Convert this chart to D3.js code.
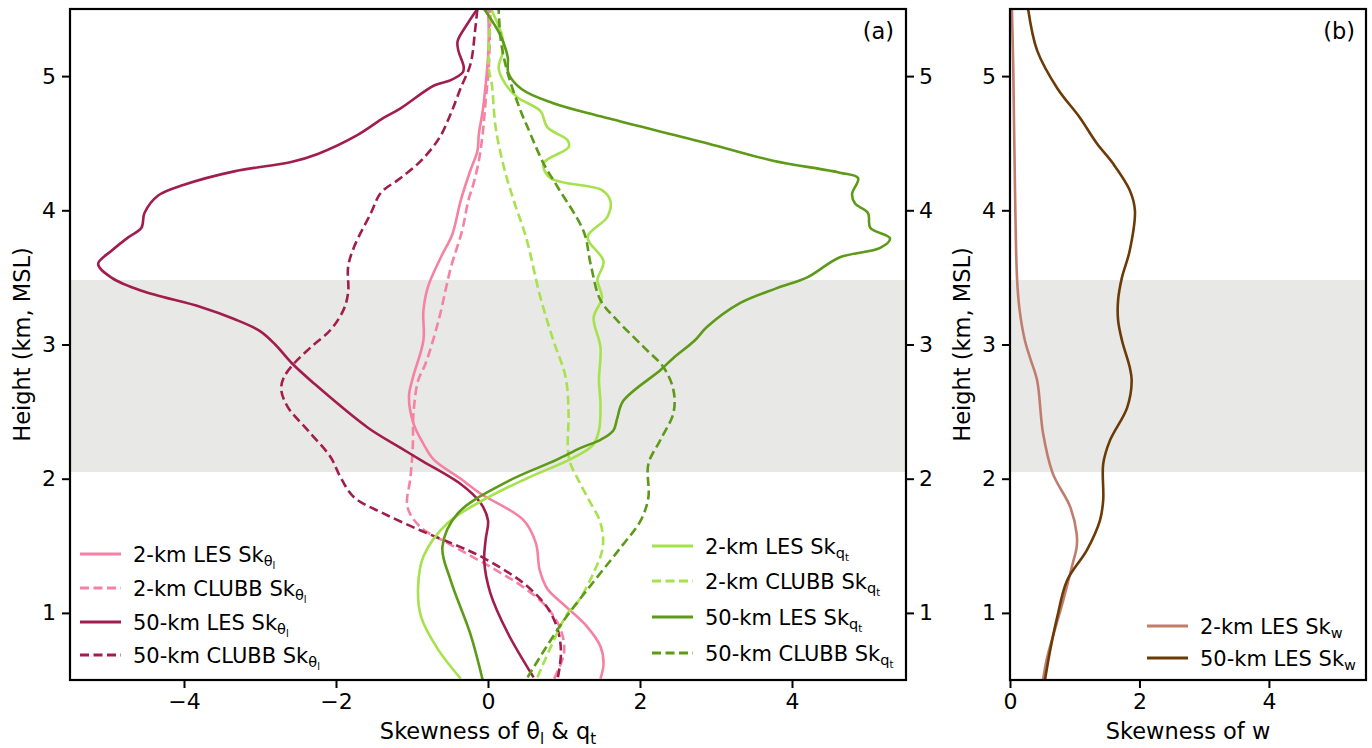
<!DOCTYPE html>
<html><head><meta charset="utf-8">
<script src="https://cdn.jsdelivr.net/npm/d3@7"></script>
<style>
body{margin:0;background:#fff;}
text{font-family:"DejaVu Sans",sans-serif;fill:#000;}
</style>
</head><body>
<svg id="c" width="1372" height="748"></svg>
<script>
// ---------- data: [height (km), skewness] ----------
const les2Th = [[0.51,1.48],[0.62,1.52],[0.75,1.48],[0.90,1.30],[1.05,1.02],[1.18,0.78],[1.32,0.68],[1.52,0.63],[1.69,0.47],[1.89,-0.10],[2.0,-0.36],[2.14,-0.71],[2.26,-0.85],[2.41,-0.98],[2.61,-1.04],[2.75,-0.99],[3.03,-0.85],[3.25,-0.85],[3.43,-0.79],[3.65,-0.62],[3.82,-0.47],[4.07,-0.36],[4.30,-0.23],[4.44,-0.14],[4.57,-0.12],[4.74,-0.07],[4.94,-0.03],[5.14,0.0],[5.32,0.01],[5.5,0.0]];
const clubb2Th = [[0.51,0.87],[0.70,1.0],[0.87,0.96],[1.04,0.78],[1.19,0.47],[1.34,0.04],[1.52,-0.53],[1.64,-0.89],[1.79,-1.06],[2.01,-1.02],[2.23,-0.99],[2.49,-0.98],[2.73,-0.92],[2.86,-0.82],[3.18,-0.65],[3.57,-0.49],[3.85,-0.34],[4.07,-0.26],[4.20,-0.19],[4.37,-0.12],[4.57,-0.07],[4.82,-0.03],[5.06,0.01],[5.5,0.03]];
const les50Th = [[0.52,0.60],[0.85,0.26],[1.15,0.03],[1.39,-0.05],[1.55,-0.03],[1.69,0.0],[1.82,-0.10],[1.96,-0.36],[2.14,-0.89],[2.23,-1.15],[2.38,-1.58],[2.71,-2.29],[2.86,-2.58],[3.0,-2.80],[3.10,-3.0],[3.19,-3.34],[3.28,-3.78],[3.40,-4.56],[3.50,-4.96],[3.60,-5.13],[3.70,-4.95],[3.80,-4.73],[3.87,-4.56],[3.98,-4.52],[4.11,-4.34],[4.19,-4.0],[4.29,-3.34],[4.36,-2.59],[4.42,-2.24],[4.56,-1.72],[4.69,-1.37],[4.76,-1.15],[4.93,-0.71],[4.97,-0.49],[5.03,-0.33],[5.07,-0.32],[5.19,-0.39],[5.26,-0.40],[5.39,-0.27],[5.5,-0.14]];
const clubb50Th = [[0.52,0.92],[0.70,0.96],[0.87,0.92],[1.04,0.78],[1.22,0.47],[1.41,-0.06],[1.49,-0.36],[1.61,-0.87],[1.74,-1.37],[1.86,-1.76],[2.01,-1.94],[2.16,-2.07],[2.36,-2.37],[2.53,-2.63],[2.66,-2.72],[2.75,-2.69],[2.86,-2.55],[2.98,-2.33],[3.11,-2.07],[3.26,-1.90],[3.39,-1.84],[3.58,-1.84],[3.73,-1.76],[3.98,-1.54],[4.13,-1.41],[4.24,-1.15],[4.37,-0.88],[4.54,-0.64],[4.72,-0.49],[4.91,-0.36],[5.09,-0.23],[5.34,-0.17],[5.5,-0.14]];
const les2Qt = [[0.51,-0.36],[0.73,-0.66],[0.97,-0.88],[1.19,-0.92],[1.42,-0.85],[1.67,-0.53],[1.86,0.0],[2.0,0.5],[2.15,1.1],[2.25,1.38],[2.36,1.46],[2.56,1.48],[2.73,1.46],[2.98,1.48],[3.20,1.39],[3.35,1.50],[3.48,1.44],[3.62,1.52],[3.80,1.31],[3.95,1.57],[4.07,1.61],[4.15,1.50],[4.24,0.82],[4.35,0.73],[4.47,1.06],[4.52,1.05],[4.62,0.78],[4.74,0.69],[4.84,0.39],[4.95,0.22],[5.06,0.14],[5.19,0.20],[5.29,0.19],[5.5,0.04]];
const clubb2Qt = [[0.52,0.65],[0.80,0.87],[1.0,1.05],[1.08,1.18],[1.30,1.39],[1.49,1.51],[1.67,1.48],[1.86,1.31],[2.0,1.18],[2.12,1.08],[2.23,1.05],[2.49,1.06],[2.76,1.02],[3.03,0.86],[3.35,0.69],[3.80,0.50],[4.07,0.34],[4.32,0.21],[4.62,0.10],[4.94,0.05],[5.06,0.01],[5.5,0.04]];
const les50Qt = [[0.5,-0.07],[0.84,-0.23],[1.24,-0.49],[1.49,-0.60],[1.74,-0.40],[1.98,0.26],[2.14,0.90],[2.23,1.22],[2.29,1.48],[2.36,1.65],[2.45,1.70],[2.58,1.78],[2.81,2.27],[2.90,2.44],[3.03,2.72],[3.13,2.88],[3.31,3.32],[3.42,3.80],[3.50,4.20],[3.65,4.63],[3.72,5.16],[3.79,5.29],[3.87,5.03],[3.98,5.0],[4.05,4.83],[4.12,4.79],[4.24,4.87],[4.28,4.63],[4.37,3.75],[4.50,2.88],[4.70,1.48],[4.80,0.85],[4.90,0.45],[5.02,0.27],[5.14,0.26],[5.24,0.21],[5.34,0.13],[5.5,-0.05]];
const clubb50Qt = [[0.52,0.52],[0.93,0.98],[1.24,1.40],[1.49,1.75],[1.69,2.01],[1.86,2.11],[2.11,2.11],[2.29,2.27],[2.49,2.44],[2.66,2.44],[2.83,2.31],[2.98,2.05],[3.18,1.70],[3.33,1.48],[3.60,1.35],[3.84,1.26],[4.17,0.92],[4.35,0.73],[4.62,0.52],[4.74,0.43],[5.02,0.26],[5.26,0.17],[5.5,0.14]];
const les2W = [[0.5,0.51],[0.66,0.57],[0.87,0.69],[1.09,0.82],[1.37,0.97],[1.49,1.03],[1.59,1.03],[1.79,0.93],[2.04,0.66],[2.34,0.51],[2.73,0.42],[2.90,0.31],[3.03,0.23],[3.25,0.15],[3.48,0.11],[4.07,0.08],[5.07,0.05],[5.5,0.03]];
const les50W = [[0.5,0.54],[0.72,0.62],[0.97,0.73],[1.24,0.88],[1.47,1.19],[1.69,1.39],[1.84,1.44],[2.11,1.44],[2.28,1.54],[2.53,1.81],[2.73,1.88],[2.83,1.85],[3.03,1.73],[3.18,1.67],[3.33,1.67],[3.50,1.73],[3.70,1.85],[4.0,1.93],[4.15,1.85],[4.35,1.59],[4.5,1.34],[4.69,1.08],[4.91,0.73],[5.19,0.42],[5.5,0.28]];

const cloudLayer = [2.05, 3.48];
const yTicks = [1,2,3,4,5];
const xTicksA = [-4,-2,0,2,4];
const xTicksB = [0,2,4];

const C = {pink:"#f682a3", crim:"#a11d4e", lime:"#a6e24c", green:"#5c9a17", tan:"#c07d6d", brown:"#6b3a06"};

// ---------- layout ----------
const svg = d3.select("#c");
const T0=9, B0=680;
const A = {l:70, r:906}, B = {l:1010, r:1366};
const y = d3.scaleLinear().domain([0.5,5.5]).range([B0,T0]);
const xa = d3.scaleLinear().domain([-5.5,5.5]).range([A.l,A.r]);
const xb = d3.scaleLinear().domain([0,5.5]).range([B.l,B.r]);
const FS = 22, LFS = 22.5;

const defs = svg.append("defs");
defs.append("clipPath").attr("id","ca").append("rect").attr("x",A.l).attr("y",T0).attr("width",A.r-A.l).attr("height",B0-T0);
defs.append("clipPath").attr("id","cb").append("rect").attr("x",B.l).attr("y",T0).attr("width",B.r-B.l).attr("height",B0-T0);

// cloud band
[A,B].forEach(P=>{
  svg.append("rect").attr("x",P.l).attr("width",P.r-P.l)
    .attr("y",y(cloudLayer[1])).attr("height",y(cloudLayer[0])-y(cloudLayer[1]))
    .attr("fill","#e8e8e6");
});

function mkLine(x){ return d3.line().x(d=>x(d[1])).y(d=>y(d[0])).curve(d3.curveCatmullRom.alpha(0.5)); }
const la=mkLine(xa), lb=mkLine(xb);
const dash="9,4.5";
const seriesA = [
  [les2Th,C.pink,null],[clubb2Th,C.pink,dash],[les50Th,C.crim,null],[clubb50Th,C.crim,dash],
  [les2Qt,C.lime,null],[clubb2Qt,C.lime,dash],[les50Qt,C.green,null],[clubb50Qt,C.green,dash]
];
const gA = svg.append("g").attr("clip-path","url(#ca)");
seriesA.forEach(([d,c,da])=>{
  gA.append("path").attr("d",la(d)).attr("fill","none").attr("stroke",c).attr("stroke-width",2.6)
    .attr("stroke-dasharray",da).attr("stroke-linejoin","round");
});
const gB = svg.append("g").attr("clip-path","url(#cb)");
[[les2W,C.tan],[les50W,C.brown]].forEach(([d,c])=>{
  gB.append("path").attr("d",lb(d)).attr("fill","none").attr("stroke",c).attr("stroke-width",2.6);
});

// axes
function styleAxis(g){
  g.select(".domain").remove();
  g.selectAll(".tick line").attr("stroke","#000").attr("stroke-width",2);
  g.selectAll(".tick text").attr("font-size",FS).attr("font-family","DejaVu Sans");
}
const fmt = d3.format("d");
svg.append("g").attr("transform",`translate(${A.l},0)`).call(d3.axisLeft(y).tickValues(yTicks).tickSize(8).tickPadding(6).tickFormat(fmt)).call(styleAxis);
svg.append("g").attr("transform",`translate(${A.r},0)`).call(d3.axisRight(y).tickValues(yTicks).tickSize(8).tickPadding(5).tickFormat(fmt)).call(styleAxis);
svg.append("g").attr("transform",`translate(0,${B0})`).call(d3.axisBottom(xa).tickValues(xTicksA).tickSize(8).tickPadding(5).tickFormat(fmt)).call(styleAxis);
svg.append("g").attr("transform",`translate(${B.l},0)`).call(d3.axisLeft(y).tickValues(yTicks).tickSize(8).tickPadding(6).tickFormat(fmt)).call(styleAxis);
svg.append("g").attr("transform",`translate(0,${B0})`).call(d3.axisBottom(xb).tickValues(xTicksB).tickSize(8).tickPadding(5).tickFormat(fmt)).call(styleAxis);

// spines
[A,B].forEach(P=>{
  svg.append("rect").attr("x",P.l).attr("y",T0).attr("width",P.r-P.l).attr("height",B0-T0)
    .attr("fill","none").attr("stroke","#000").attr("stroke-width",2.2);
});

// axis labels
function yLabel(x){
  svg.append("text").attr("transform",`translate(${x},${(T0+B0)/2}) rotate(-90)`)
    .attr("text-anchor","middle").attr("font-size",LFS).text("Height (km, MSL)");
}
yLabel(30); yLabel(970);
const xl = svg.append("text").attr("x",(A.l+A.r)/2).attr("y",739).attr("text-anchor","middle").attr("font-size",LFS);
xl.append("tspan").text("Skewness of θ");
xl.append("tspan").attr("font-size",15).attr("dy",5).text("l");
xl.append("tspan").attr("dy",-5).text(" & q");
xl.append("tspan").attr("font-size",15).attr("dy",5).text("t");
svg.append("text").attr("x",(B.l+B.r)/2).attr("y",739).attr("text-anchor","middle").attr("font-size",LFS).text("Skewness of w");

// panel labels
svg.append("text").attr("x",894).attr("y",39).attr("text-anchor","end").attr("font-size",LFS).text("(a)");
svg.append("text").attr("x",1355).attr("y",39).attr("text-anchor","end").attr("font-size",LFS).text("(b)");

// legends
function legend(x0, ys, items){
  items.forEach((it,i)=>{
    const yy = ys[i];
    svg.append("line").attr("x1",x0).attr("x2",x0+41).attr("y1",yy).attr("y2",yy)
      .attr("stroke",it.c).attr("stroke-width",3.2).attr("stroke-dasharray",it.d?"9,4.5":null);
    const t = svg.append("text").attr("x",x0+53).attr("y",yy+7.5).attr("font-size",21);
    t.append("tspan").text(it.label);
    if(it.sub==="th"){
      t.append("tspan").attr("font-size",14.5).attr("dy",4).text("θ");
      t.append("tspan").attr("font-size",10).attr("dy",3).text("l");
    } else if(it.sub==="qt"){
      t.append("tspan").attr("font-size",14.5).attr("dy",4).text("q");
      t.append("tspan").attr("font-size",10).attr("dy",3).text("t");
    } else {
      t.append("tspan").attr("font-size",14.5).attr("dy",4).text("w");
    }
  });
}
legend(80,[554,588,622,655],[
  {c:C.pink,d:false,label:"2-km LES Sk",sub:"th"},
  {c:C.pink,d:true,label:"2-km CLUBB Sk",sub:"th"},
  {c:C.crim,d:false,label:"50-km LES Sk",sub:"th"},
  {c:C.crim,d:true,label:"50-km CLUBB Sk",sub:"th"}]);
legend(652,[546,581,617,653],[
  {c:C.lime,d:false,label:"2-km LES Sk",sub:"qt"},
  {c:C.lime,d:true,label:"2-km CLUBB Sk",sub:"qt"},
  {c:C.green,d:false,label:"50-km LES Sk",sub:"qt"},
  {c:C.green,d:true,label:"50-km CLUBB Sk",sub:"qt"}]);
legend(1147,[626,658],[
  {c:C.tan,d:false,label:"2-km LES Sk",sub:"w"},
  {c:C.brown,d:false,label:"50-km LES Sk",sub:"w"}]);
</script>
</body></html>
